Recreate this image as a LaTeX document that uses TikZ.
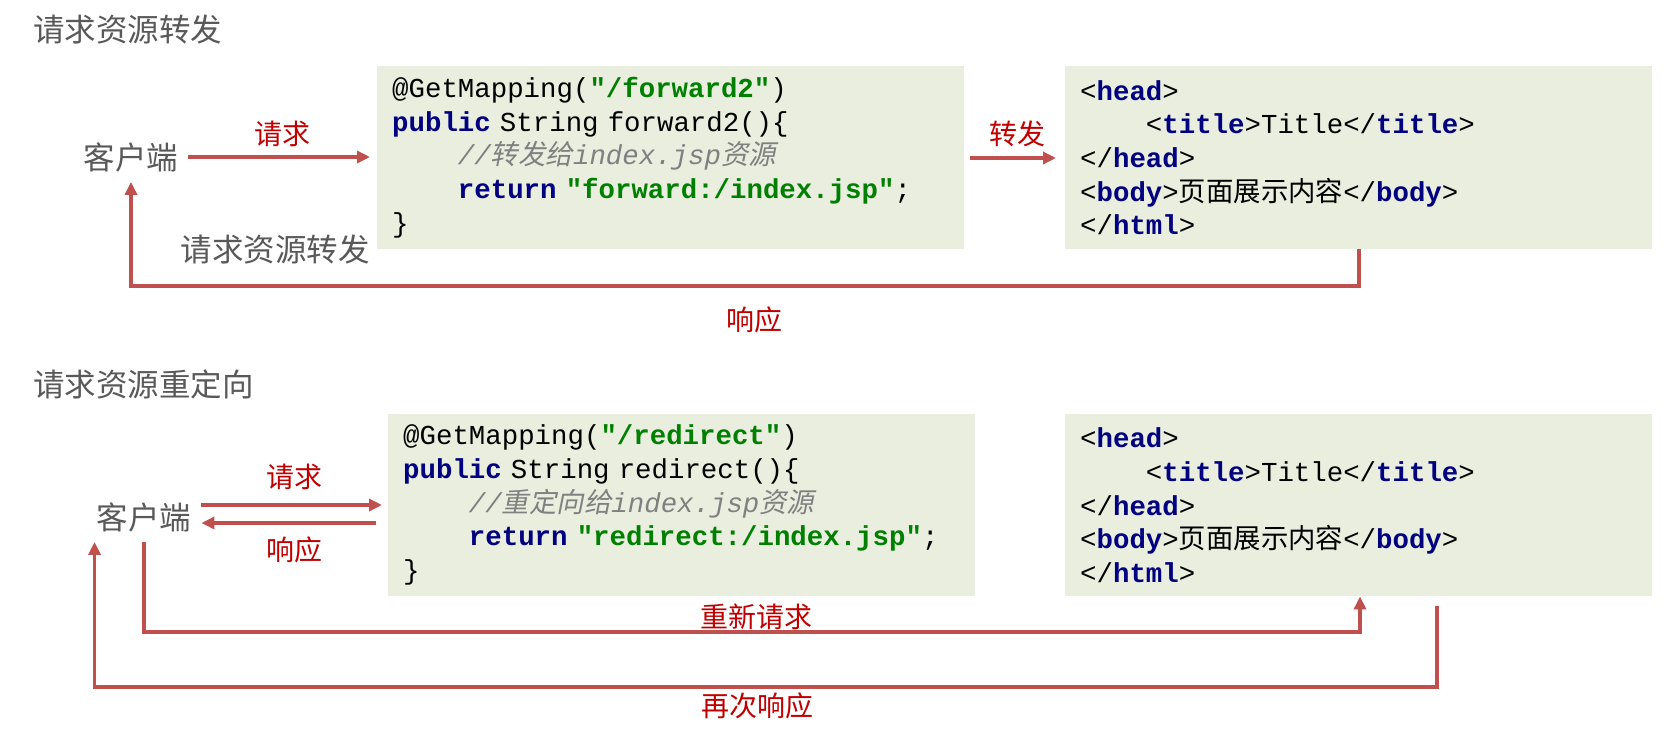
\documentclass[tikz,border=0pt]{standalone}
\usepackage{fontspec}
\setmainfont{Noto Sans CJK SC}
\setmonofont{Liberation Mono}
\newfontfamily\cjk{Noto Sans CJK SC}
\newfontfamily\cjkit[FakeSlant=0.2]{Noto Sans CJK SC}
\usetikzlibrary{arrows.meta}

\definecolor{arrowred}{RGB}{192,80,77}
\definecolor{labelred}{RGB}{192,0,0}
\definecolor{graytext}{RGB}{89,89,89}
\definecolor{boxfill}{RGB}{233,238,222}
\definecolor{kwblue}{RGB}{0,0,128}
\definecolor{strgreen}{RGB}{0,128,0}
\definecolor{cmtgray}{RGB}{128,128,128}

\newcommand\kw[1]{\textcolor{kwblue}{\bfseries #1}}
\newcommand\str[1]{\textcolor{strgreen}{\bfseries #1}}
\newcommand\cm[1]{\textcolor{cmtgray}{\itshape #1}}
\newcommand\zh[1]{{\cjk\upshape\mdseries #1}}
\newcommand\zhit[1]{{\cjkit\upshape\mdseries #1}}
\newcommand\ind{\phantom{xxxx}}

\begin{document}
\begin{tikzpicture}[x=1pt,y=-1pt,>={Triangle[length=13pt,width=12pt]},
  flow/.style={->,draw=arrowred,line width=3.5pt},
  code box/.style={fill=boxfill,anchor=north west,inner xsep=15pt,inner ysep=0pt,text width=557pt,
    minimum height=183pt,align=left,font=\ttfamily\fontsize{27.4}{33.7}\selectfont},
  client node/.style={text=graytext,inner sep=10pt,font=\fontsize{31.5}{36}\selectfont},
  title text/.style={text=graytext,anchor=west,inner sep=0pt,font=\fontsize{31.5}{36}\selectfont},
  red label/.style={text=labelred,inner sep=0pt,font=\fontsize{28}{32}\selectfont}]
  \fill[white] (0,0) rectangle (1672,737);
  \useasboundingbox (0,0) rectangle (1672,737);

  % forward
  \node[title text] (fwdtitle) at (33,30) {请求资源转发};
  \node[client node] (client1) at (131,157) {客户端};
  \node[code box] (fwdcode) at (377,66) {@GetMapping(\str{"/forward2"})\\
    \kw{public} String forward2()\{\\
    \ind\cm{//\zhit{转发给}index.jsp\zhit{资源}}\\
    \ind\kw{return} \str{"forward:/index.jsp"};\\
    \}};
  \node[code box] (fwdhtml) at (1065,66) {<\kw{head}>\\
    \ind<\kw{title}>Title</\kw{title}>\\
    </\kw{head}>\\
    <\kw{body}>\zh{页面展示内容}</\kw{body}>\\
    </\kw{html}>};
  \node[client node,inner sep=0pt] (fwdnote) at (275,250) {请求资源转发};
  \coordinate (fwdout) at (970,158);
  \coordinate (fwdback) at (1359,286);

  \draw[flow,shorten >=7pt] (client1) -- (client1 -| fwdcode.west)
    node[red label,midway,above=8pt] {请求};
  \draw[flow,shorten >=9pt] (fwdout) -- (fwdout -| fwdhtml.west)
    node[red label,midway,above=9pt] {转发};
  \draw[flow] (fwdhtml.south -| fwdback) -- (fwdback)
    -| node[red label,pos=0.246,below=19pt] {响应} (client1.south);

  % redirect
  \node[title text] (redtitle) at (33,384) {请求资源重定向};
  \node[client node] (client2) at (144,517) {客户端};
  \node[code box,minimum height=182pt] (redcode) at (388,414) {@GetMapping(\str{"/redirect"})\\
    \kw{public} String redirect()\{\\
    \ind\cm{//\zhit{重定向给}index.jsp\zhit{资源}}\\
    \ind\kw{return} \str{"redirect:/index.jsp"};\\
    \}};
  \node[code box,minimum height=182pt] (redhtml) at (1065,414) {<\kw{head}>\\
    \ind<\kw{title}>Title</\kw{title}>\\
    </\kw{head}>\\
    <\kw{body}>\zh{页面展示内容}</\kw{body}>\\
    </\kw{html}>};
  \coordinate (again) at (1360,632);
  \coordinate (reply) at (1437,687);

  \draw[flow,shorten >=6pt] ([yshift=12pt]client2.east) -- ([yshift=12pt]client2.east -| redcode.west)
    node[red label,midway,above=13pt] {请求};
  \draw[flow,shorten <=12pt] ([yshift=-6pt]client2.east -| redcode.west) -- ([yshift=-6pt]client2.east)
    node[red label,midway,below=12pt] {响应};
  \draw[flow] (client2.south) |- node[red label,pos=0.752,above=0pt] {重新请求} (again)
    -- (again |- redhtml.south);
  \draw[flow] ([yshift=-10pt]redhtml.south -| reply) -- (reply)
    -| node[red label,pos=0.253,below=4pt] {再次响应} ([xshift=8pt]client2.south west);
\end{tikzpicture}
\end{document}
